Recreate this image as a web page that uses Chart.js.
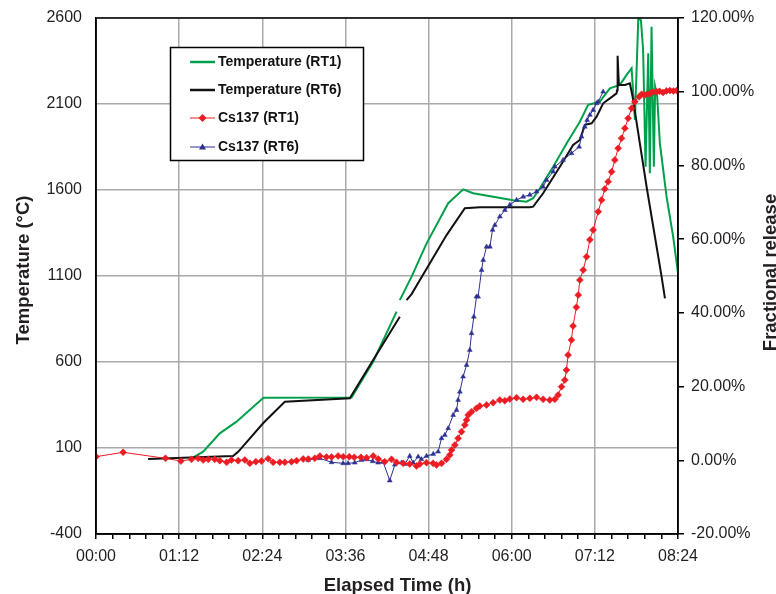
<!DOCTYPE html>
<html>
<head>
<meta charset="utf-8">
<script src="https://cdn.jsdelivr.net/npm/chart.js@4.4.1/dist/chart.umd.min.js"></script>
<style>
  html, body { margin: 0; padding: 0; background: #fff; }
  #wrap { width: 776px; height: 594px; }
</style>
</head>
<body>
<div id="wrap"><canvas id="releaseChart" width="776" height="594"></canvas></div>
<script>
// elapsed time in minutes, temperature in °C, release in %
const tempRT1Time = [84.1, 92.8, 107.2, 121.7, 145, 221.3, 240, 260.3, 261.5, 263.1,
    273.3, 286.3, 305, 318, 326.6, 361.3, 372.8, 378.6, 384.4, 395.9,
    407.5, 419, 426.2, 436.3, 445, 453.7, 459.5, 463.8, 466.7, 469.6,
    471.9, 473.8, 475.9, 478.2, 479.6, 481.1, 483.1, 484.2, 486, 488.3,
    494.1, 499.8, 504];
const tempRT1 = [46, 79, 185, 253, 392, 393, 602, 893, null, 960,
    1096, 1290, 1523, 1604, 1581, 1541, 1532, 1552, 1610, 1735,
    1871, 1997, 2095, 2114, 2191, 2211, 2269, 2308, 2007, 2595,
    2588, 2414, 1735, 2395, 1697, 2549, 1735, 2201, 2142, 1871,
    1561, 1329, 1117];

const tempRT6Time = [45.1, 118.7, 123.1, 144.7, 163.5, 219.8, 240, 263.1, 266, 268.9,
    273.3, 289.1, 303.6, 319.4, 332.4, 375.7, 378.6, 387.2, 401.7, 413.2,
    419, 423.3, 429.2, 433.5, 439.2, 445, 450.8, 451.3, 451.7, 452.8,
    458, 462.3, 464.7, 476.8, 489.8, 492.7];
const tempRT6 = [36, 53, 78, 244, 369, 389, 612, 863, null, 960,
    995, 1174, 1338, 1494, 1500, 1500, 1503, 1581, 1735, 1862,
    1891, 1979, 1988, 2026, 2104, 2133, 2162, 2180, 2380, 2211,
    2211, 2220, 2142, 1619, 1096, 970];

const csRT1Time = [0, 23.5, 60.2, 73.5, 82.7, 88.5, 92.8, 97.2, 102.9, 107.2,
    113.1, 117.3, 123.1, 128.9, 133.2, 138.4, 143.3, 149.1, 153.4, 159.2,
    163.5, 169.3, 173.7, 179.4, 183.8, 189.5, 193.9, 199.6, 204, 209.7,
    214.1, 219.3, 223.6, 229.4, 234.3, 240.1, 244.4, 250.1, 255.9, 260.2,
    266, 271.7, 277.5, 280.4, 286.2, 291.9, 294.8, 299.2, 303.5, 306.4,
    307.9, 310.8, 313.6, 316.5, 319.4, 320.9, 322.3, 325.2, 329.5, 332.4,
    338.2, 343.9, 349.7, 354, 358.4, 364.2, 369.9, 375.7, 381.5, 387.2,
    393, 397.3, 400.2, 403.1, 406, 407.4, 408.8, 411.7, 413.1, 416,
    417.6, 419, 421.9, 424.8, 427.7, 430.5, 434.9, 437.8, 440.6, 443.5,
    446.5, 449.3, 452.2, 455.1, 458, 460.8, 463.8, 466.6, 470.4, 472.5,
    475.3, 477.5, 480, 482.5, 485.5, 488, 491, 494, 497, 500,
    502.8];
const csRT1 = [0.98, 2.16, 0.53, -0.2, 0.26, 0.53, 0.08, 0.26, 0.26, -0.1,
    -0.56, 0.08, -0.1, 0.08, -0.83, -0.38, -0.2, 0.44, -0.56, -0.56,
    -0.56, -0.38, -0.1, 0.35, 0.35, 0.53, 1.16, 0.89, 0.89, 1.16,
    0.98, 0.98, 0.8, 0.8, 0.71, 1.16, 0.35, -0.38, 0.26, -0.56,
    -0.83, -1.01, -1.55, -1.01, -0.65, -0.83, -1.28, -0.83, 0.26, 1.44,
    2.79, 4.15, 5.96, 7.77, 9.58, 10.93, 12.29, 13.19, 14.09, 14.73,
    15.0, 15.63, 16.35, 16.17, 16.63, 16.99, 16.54, 16.81, 17.08, 16.54,
    16.35, 16.54, 17.71, 19.97, 21.78, 24.49, 28.56, 32.63, 36.43, 41.5,
    44.84, 48.91, 51.6, 55.23, 59.83, 62.48, 67.44, 70.62, 73.6, 75.58,
    78.29, 81.47, 84.64, 87.35, 90.07, 92.78, 95.49, 97.28, 98.64, 99.3,
    99.1, 99.4, 99.6, 99.9, 100, 100.1, 99.8, 100.2, 100.3, 100.2,
    100.3];

const csRT6Time = [183.7, 193.8, 204, 214, 218.3, 224.1, 230, 234.3, 239.5, 244.3,
    248.7, 254.4, 258.8, 264.6, 267.5, 271.7, 274.6, 279, 281.8, 286.2,
    292, 296.3, 299.2, 302.1, 305, 309.3, 312.2, 313.6, 315.1, 317.9,
    320.9, 323.7, 325.2, 327.2, 329.5, 330.9, 333.9, 335.3, 338.2, 341.1,
    343.4, 345.4, 349.7, 354.1, 358.4, 364.2, 369.9, 375.7, 381.5, 387.2,
    390.2, 395.9, 397.4, 404.5, 411.8, 418.4, 420.5, 423.3, 425.3, 427.7,
    430.5, 433.5, 434.9, 439.2];
const csRT6 = [0.08, 0.54, -0.55, -0.82, -0.82, -0.66, 0.08, 0.27, -0.28, -0.66,
    -0.5, -5.5, -1.2, -0.66, -1.01, 1.16, -0.66, 0.97, 0.26, 1.16,
    1.7, 2.33, 5.96, 6.86, 8.68, 12.28, 13.64, 16.35, 18.6, 22.68,
    25.85, 29.92, 34.45, 38.95, 44.38, 44.38, 51.62, 54.33, 57.94, 57.94,
    62.5, 63.8, 66.1, 67.9, 69.3, 70.6, 71.5, 72.0, 72.87, 74.2,
    76.04, 78.3, 79.65, 81.47, 83.28, 85.07, 87.79, 90.5, 92.3, 93.7,
    95.03, 96.85, 97.28, 100.0];

// axis settings
const timeMin = 0, timeMax = 504, timeMajor = 72, timeMinor = 14.4;
const tempMin = -400, tempMax = 2600, tempStep = 500;
const relMin = -20, relMax = 120, relStep = 20;

const GREEN = '#00a04b';
const RED = '#ec1c24';
const BLUE = '#2e3192';
const INK = '#231f20';
const GRID = '#a7a9ac';
const FONT = '"Liberation Sans", Arial, sans-serif';

Chart.defaults.font.family = FONT;
Chart.defaults.color = INK;

function toPoints(times, values) {
    return times.map((t, i) => ({ x: t, y: values[i] }));
}

function isMajor(v) {
    const r = v / timeMajor;
    return Math.abs(r - Math.round(r)) < 1e-6;
}

function hhmm(v) {
    const m = Math.round(v);
    const h = Math.floor(m / 60);
    const mm = m % 60;
    return String(h).padStart(2, '0') + ':' + String(mm).padStart(2, '0');
}

// box around the plot, top edge included
const framePlugin = {
    id: 'frame',
    afterDatasetsDraw(chart) {
        const { ctx, chartArea: a } = chart;
        ctx.save();
        ctx.strokeStyle = '#000';
        ctx.lineWidth = 1.5;
        ctx.strokeRect(a.left, a.top, a.right - a.left, a.bottom - a.top);
        ctx.restore();
    }
};

// axis titles: both vertical ones read bottom to top
const axisTitlePlugin = {
    id: 'axisTitles',
    afterDraw(chart) {
        const ctx = chart.ctx;
        ctx.save();
        ctx.font = 'bold 18.5px ' + FONT;
        ctx.fillStyle = INK;
        ctx.textAlign = 'center';
        ctx.textBaseline = 'alphabetic';
        ctx.fillText('Elapsed Time (h)', 397.5, 591);

        ctx.save();
        ctx.translate(28.5, 270);
        ctx.rotate(-Math.PI / 2);
        ctx.fillText('Temperature (°C)', 0, 0);
        ctx.restore();

        ctx.translate(776, 272.5);
        ctx.rotate(-Math.PI / 2);
        ctx.fillText('Fractional release', 0, 0);
        ctx.restore();
    }
};

// boxed legend inside the plot
const boxLegendPlugin = {
    id: 'boxLegend',
    afterDraw(chart) {
        const ctx = chart.ctx;
        const box = { x: 170.5, y: 47.5, w: 193, h: 113 };
        const rows = [62, 90, 118, 147];
        ctx.save();
        ctx.fillStyle = '#fff';
        ctx.fillRect(box.x, box.y, box.w, box.h);
        ctx.strokeStyle = '#000';
        ctx.lineWidth = 1.5;
        ctx.strokeRect(box.x, box.y, box.w, box.h);
        ctx.font = 'bold 14px ' + FONT;
        ctx.textBaseline = 'middle';
        ctx.textAlign = 'left';
        chart.data.datasets.forEach((ds, i) => {
            const y = rows[i];
            ctx.strokeStyle = ds.borderColor;
            ctx.lineWidth = ds.pointRadius ? 1 : 2.5;
            ctx.beginPath();
            ctx.moveTo(190, y);
            ctx.lineTo(215, y);
            ctx.stroke();
            if (ds.pointRadius) {
                ctx.fillStyle = ds.backgroundColor;
                ctx.beginPath();
                if (ds.pointStyle === 'rectRot') {
                    ctx.moveTo(202.5, y - 4);
                    ctx.lineTo(206.5, y);
                    ctx.lineTo(202.5, y + 4);
                    ctx.lineTo(198.5, y);
                } else {
                    ctx.moveTo(202.5, y - 3.5);
                    ctx.lineTo(206, y + 2.5);
                    ctx.lineTo(199, y + 2.5);
                }
                ctx.closePath();
                ctx.fill();
            }
            ctx.fillStyle = '#111';
            ctx.fillText(ds.label, 218, y + 0.5);
        });
        ctx.restore();
    }
};

function noEdgePadding(s) {
    s.paddingTop = 0;
    s.paddingBottom = 0;
}

new Chart(document.getElementById('releaseChart'), {
    type: 'line',
    data: {
        datasets: [{
            label: 'Temperature (RT1)',
            data: toPoints(tempRT1Time, tempRT1),
            yAxisID: 'y',
            borderColor: GREEN,
            borderWidth: 2,
            pointRadius: 0,
            order: 4
        }, {
            label: 'Temperature (RT6)',
            data: toPoints(tempRT6Time, tempRT6),
            yAxisID: 'y',
            borderColor: '#111',
            borderWidth: 2,
            pointRadius: 0,
            order: 3
        }, {
            label: 'Cs137 (RT1)',
            data: toPoints(csRT1Time, csRT1),
            yAxisID: 'y1',
            borderColor: RED,
            backgroundColor: RED,
            borderWidth: 1,
            pointStyle: 'rectRot',
            pointRadius: 3.5,
            pointBorderWidth: 0.5,
            order: 1
        }, {
            label: 'Cs137 (RT6)',
            data: toPoints(csRT6Time, csRT6),
            yAxisID: 'y1',
            borderColor: BLUE,
            backgroundColor: BLUE,
            borderWidth: 1,
            pointStyle: 'triangle',
            pointRadius: 2.8,
            pointBorderWidth: 0.5,
            order: 2
        }]
    },
    options: {
        responsive: false,
        animation: false,
        spanGaps: false,
        layout: { padding: { top: 18, left: 0, right: 0, bottom: 0 } },
        elements: { line: { tension: 0 } },
        plugins: {
            legend: { display: false },
            tooltip: { enabled: false }
        },
        scales: {
            x: {
                type: 'linear',
                min: timeMin,
                max: timeMax,
                afterFit: s => { s.height = 60; s.paddingLeft = 0; s.paddingRight = 0; },
                border: { color: '#000', width: 1.5 },
                grid: {
                    color: c => isMajor(c.tick.value) ? GRID : 'rgba(0,0,0,0)',
                    tickColor: '#000',
                    lineWidth: 1.5,
                    tickLength: 5
                },
                ticks: {
                    stepSize: timeMinor,
                    maxTicksLimit: 60,
                    autoSkip: false,
                    maxRotation: 0,
                    padding: 8,
                    font: { size: 16 },
                    callback: v => isMajor(v) ? hhmm(v) : ''
                }
            },
            y: {
                position: 'left',
                min: tempMin,
                max: tempMax,
                afterFit: s => { s.width = 96; noEdgePadding(s); },
                border: { color: '#000', width: 1.5 },
                grid: { color: GRID, lineWidth: 1.5, drawTicks: false },
                ticks: {
                    stepSize: tempStep,
                    padding: 14,
                    font: { size: 16 },
                    callback: v => String(v)
                }
            },
            y1: {
                position: 'right',
                min: relMin,
                max: relMax,
                afterFit: s => { s.width = 98; noEdgePadding(s); },
                border: { color: '#000', width: 1.5 },
                grid: { drawOnChartArea: false, color: '#000', tickColor: '#000', lineWidth: 1.5, tickLength: 6 },
                ticks: {
                    stepSize: relStep,
                    padding: 7,
                    font: { size: 16 },
                    callback: v => v.toFixed(2) + '%'
                }
            }
        }
    },
    plugins: [framePlugin, axisTitlePlugin, boxLegendPlugin]
});
</script>
</body>
</html>
